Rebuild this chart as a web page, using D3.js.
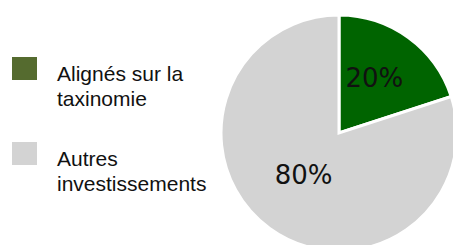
<!DOCTYPE html>
<html>
<head>
<meta charset="utf-8">
<script src="https://cdn.jsdelivr.net/npm/d3@7"></script>
<style>
  body { margin: 0; background: #fff; }
  svg { display: block; }
</style>
</head>
<body>
<div class="canvas"></div>
<script>
const categories = ['Alignés sur la taxinomie', 'Autres investissements'];
const legendLines = [['Alignés sur la', 'taxinomie'], ['Autres', 'investissements']];
const values = [20, 80];
const labels = ['20%', '80%'];

const dims = { width: 453, height: 245, radius: 118 };
const cent = { x: 339, y: 133 };

const svg = d3.select('.canvas')
    .append('svg')
    .attr('width', dims.width)
    .attr('height', dims.height);

const sliceColor = d3.scaleOrdinal().domain(categories).range(['#006400', '#d3d3d3']);
const legendColor = d3.scaleOrdinal().domain(categories).range(['#556b2f', '#d3d3d3']);

const pie = d3.pie().sort(null).value(d => d);
const arcPath = d3.arc().innerRadius(0).outerRadius(dims.radius);
const labelArc = d3.arc().innerRadius(dims.radius * 0.51).outerRadius(dims.radius * 0.51);

const graph = svg.append('g')
    .attr('transform', `translate(${cent.x},${cent.y})`);

const arcs = pie(values);

graph.selectAll('path')
    .data(arcs)
    .enter()
    .append('path')
    .attr('d', arcPath)
    .attr('fill', (d, i) => sliceColor(categories[i]))
    .attr('stroke', '#fff')
    .attr('stroke-width', 3)
    .attr('stroke-linejoin', 'miter');

graph.selectAll('text')
    .data(arcs)
    .enter()
    .append('text')
    .attr('transform', d => `translate(${labelArc.centroid(d)})`)
    .attr('text-anchor', 'middle')
    .attr('dy', '0.1em')
    .attr('font-family', 'DejaVu Sans')
    .attr('font-size', 26)
    .attr('fill', '#111')
    .text((d, i) => labels[i]);

// legend
const legend = svg.append('g');
const item = legend.selectAll('g')
    .data(categories)
    .enter()
    .append('g')
    .attr('transform', (d, i) => `translate(12,${57 + i * 85})`);

item.append('rect')
    .attr('width', 25)
    .attr('height', 23)
    .attr('fill', d => legendColor(d));

item.append('text')
    .attr('font-family', 'Liberation Sans, Arial, sans-serif')
    .attr('font-size', 21)
    .attr('fill', '#111')
    .selectAll('tspan')
    .data((d, i) => legendLines[i])
    .enter()
    .append('tspan')
    .attr('x', 45)
    .attr('y', (d, j) => 24 + j * 25)
    .text(d => d);
</script>
</body>
</html>
